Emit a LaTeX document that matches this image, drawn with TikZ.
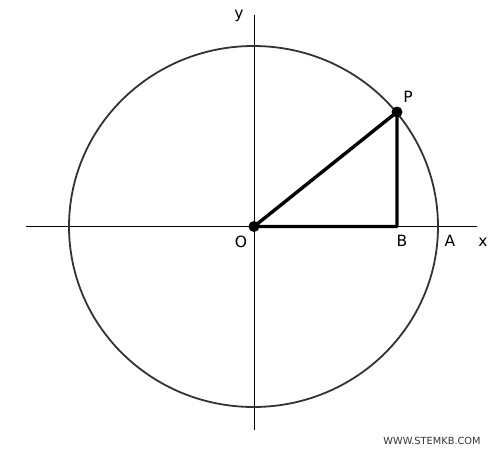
\documentclass[tikz,border=0pt]{standalone}
\usepackage{fontspec}
\setmainfont{DejaVu Sans}
\begin{document}
\begin{tikzpicture}[x=1pt,y=-1pt,
  axis/.style={line width=1pt,black},
  curve/.style={line width=1.8pt,black!80},
  tri/.style={line width=3.4pt,black,line join=round},
  dot/.style={circle,fill=black,inner sep=0pt,minimum size=11pt},
  lbl/.style={font=\fontsize{15.5}{17}\selectfont,inner sep=0pt}]
\useasboundingbox (0,0) rectangle (500,460);
\coordinate (O) at (254,226.5);
\coordinate (P) at (397,112);
\coordinate (B) at (397,226.5);
\coordinate (xl) at (26,226.5);
\coordinate (xr) at (477,226.5);
\coordinate (yt) at (254,15);
\coordinate (yb) at (254,430);
\draw[axis] (xl) -- (xr);
\draw[axis] (yt) -- (yb);
\draw[curve] (253.5,226.5) ellipse [x radius=184.5, y radius=180.5];
\draw[tri] (O) -- (P) -- (B) -- cycle;
\node[dot] (Pd) at (P) {};
\node[dot] (Od) at (O) {};
\node[lbl] (Pl) at (408,97) {P};
\node[lbl] (Ol) at (241,242) {O};
\node[lbl] (Bl) at (402,241) {B};
\node[lbl] (Al) at (450,241) {A};
\node[lbl] (xlb) at (483,242) {x};
\node[lbl] (ylb) at (239,16) {y};
\node[font=\fontsize{9.8}{11}\selectfont,text=black!80,inner sep=0pt] (wm) at (432,441) {WWW.STEMKB.COM};
\end{tikzpicture}
\end{document}
